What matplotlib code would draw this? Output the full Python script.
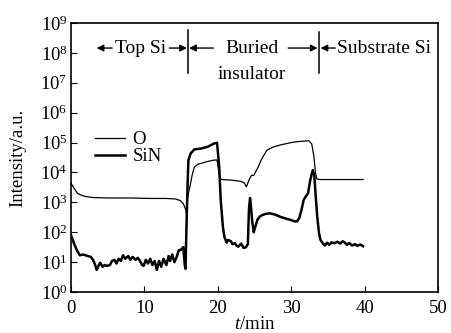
import matplotlib
matplotlib.use("Agg")
import matplotlib.pyplot as plt

plt.rcParams['font.family'] = ['Liberation Serif', 'DejaVu Serif']
plt.rcParams['mathtext.fontset'] = 'custom'
plt.rcParams['mathtext.rm'] = 'Liberation Serif'
plt.rcParams['mathtext.it'] = 'Liberation Serif:italic'

# O signal (thin line)
t_O = [0, 0.4, 0.9, 1.5, 2.1, 3, 5, 8, 11, 13, 14.2, 14.9, 15.3, 15.6, 15.75,
       15.9, 16.2, 16.5, 16.8, 17.3, 17.7, 18.5, 19.5, 19.9, 20.1, 20.3, 20.6,
       22, 23.2, 23.6, 23.9, 24.3, 24.6, 24.9, 25.5, 25.9, 26.7, 27.5, 28.5,
       30, 30.8, 32.4, 32.8, 33.1, 33.3, 33.5, 34, 36, 38, 39.8]
v_O = [4.4e3, 3.0e3, 2.0e3, 1.7e3, 1.55e3, 1.45e3, 1.4e3, 1.4e3, 1.35e3, 1.35e3,
       1.3e3, 1.15e3, 9e2, 6e2, 4e2,
       1.5e3, 3.3e3, 8e3, 1.5e4, 1.9e4, 2.0e4, 2.3e4, 2.6e4, 2.6e4, 1.2e4, 6e3, 5.8e3,
       5.5e3, 5.0e3, 4.5e3, 3.3e3, 6e3, 8e3, 8e3, 1.5e4, 2.6e4, 5.6e4, 7e4, 8.3e4,
       1.0e5, 1.07e5, 1.15e5, 9e4, 3.4e4, 1e4, 6e3, 5.8e3, 5.8e3, 5.8e3, 5.8e3]

# SiN signal (thick line)
t_SiN = [0, 0.2, 0.4, 0.8, 1.2, 1.7, 2.3, 2.7, 3.0, 3.3, 3.5, 3.8, 4.0, 4.3, 4.6,
         4.9, 5.3, 5.6, 5.9, 6.2, 6.5, 6.8, 7.1, 7.4, 7.8, 8.1, 8.4, 8.8, 9.1,
         9.4, 9.7, 9.9, 10.2, 10.5, 10.8, 11.1, 11.4, 11.7, 12.0, 12.3, 12.6,
         13.0, 13.3, 13.5, 13.8, 14.1, 14.4, 14.7, 15.0, 15.3, 15.5, 15.6, 15.75,
         15.9, 16.0, 16.3, 16.8, 17.7, 18.6, 19.5, 19.9, 20.2, 20.4, 20.7, 20.9,
         21.2, 21.4, 21.8, 22.0, 22.3, 22.6, 22.8, 23.2, 23.5, 23.8, 24.1, 24.25,
         24.4, 24.55, 24.7, 24.9, 25.1, 25.4, 25.7, 26.0, 26.5, 27.1, 27.8, 28.5,
         29.2, 29.9, 30.5, 30.8, 31.1, 31.4, 31.7, 32.0, 32.3, 32.6, 32.95, 33.15,
         33.35, 33.55, 33.8, 34.0, 34.3, 34.6, 34.9, 35.2, 35.5, 35.9, 36.3, 36.7,
         37.0, 37.3, 37.6, 37.9, 38.3, 38.7, 39.0, 39.4, 39.8]
v_SiN = [8e1, 6e1, 4.3e1, 2.5e1, 1.7e1, 1.8e1, 1.6e1, 1.5e1, 1.2e1, 8, 5.5, 8,
         9.5, 7, 8, 7.5, 8, 11, 12, 9, 13, 11, 17, 13, 16, 12, 15, 12, 14, 11, 8,
         7.5, 12, 9, 13, 8, 11, 5.5, 11, 7, 13, 8, 16, 11, 18, 10, 15, 25, 26, 32,
         8, 6, 2e2,
         5e3, 2.6e4, 4.3e4, 5.9e4, 6.3e4, 7.2e4, 9.3e4, 9.8e4, 1.5e4, 1.2e3, 1.5e2,
         7e1, 4.5e1, 5.5e1, 5.0e1, 4e1, 4.3e1, 3.5e1, 3.3e1, 4.2e1, 3.0e1, 3.1e1,
         4e1, 6e2, 1.4e3, 6e2, 2.2e2, 1.0e2, 1.5e2, 2.6e2, 3.3e2, 3.7e2, 4.1e2,
         4.3e2, 3.9e2, 3.3e2, 2.9e2, 2.6e2, 2.3e2, 2.3e2, 3e2, 5.5e2, 1.2e3, 1.6e3,
         2.0e3, 5.6e3, 1.2e4, 8e3, 1.5e3, 3.3e2, 9e1, 5.5e1, 4.3e1, 3.6e1, 4.5e1,
         3.8e1, 4.6e1, 4.3e1, 4.8e1, 4.2e1, 5.0e1, 4.5e1, 3.8e1, 4.4e1, 3.6e1,
         4.0e1, 3.5e1, 3.9e1, 3.4e1]

x_ticks = [0, 10, 20, 30, 40, 50]
y_ticks = [1e0, 1e1, 1e2, 1e3, 1e4, 1e5, 1e6, 1e7, 1e8, 1e9]

fig = plt.figure(figsize=(4.52, 3.33), dpi=100)
ax = fig.add_axes([0.157, 0.123, 0.812, 0.808])

ax.plot(t_O, v_O, color='black', lw=0.9, label='O')
ax.plot(t_SiN, v_SiN, color='black', lw=1.8, label='SiN')

ax.set_yscale('log')
ax.set_xlim(0, 50)
ax.set_ylim(1e0, 1e9)
ax.set_xticks(x_ticks)
ax.set_yticks(y_ticks)
ax.minorticks_off()
ax.tick_params(direction='in', length=4, labelsize=13.5, top=False, right=False)
ax.tick_params(axis='x', pad=6)
ax.tick_params(axis='y', pad=2.5)
for s in ax.spines.values():
    s.set_linewidth(1.2)

ax.set_xlabel('$t$/min', fontsize=13.5, labelpad=-1)
ax.set_ylabel('Intensity/a.u.', fontsize=13.5, labelpad=10)

leg = ax.legend(loc='upper left', bbox_to_anchor=(0.065, 0.598), frameon=False,
                fontsize=13.5, handlelength=1.6, handletextpad=0.4,
                labelspacing=0.0, borderaxespad=0, borderpad=0)

# Region annotations
fs = 14
ya = 1.45e8
arrow = dict(arrowstyle='-|>', color='black', lw=1.0, mutation_scale=10,
             shrinkA=0, shrinkB=0)
ax.annotate('', xy=(3.5, ya), xytext=(5.6, ya), arrowprops=arrow)
ax.text(9.45, ya, 'Top Si', fontsize=fs, va='center', ha='center')
ax.annotate('', xy=(15.8, ya), xytext=(13.4, ya), arrowprops=arrow)
ax.plot([15.95, 15.95], [5.8e8, 2.1e7], color='black', lw=1.1)
ax.annotate('', xy=(16.1, ya), xytext=(19.4, ya), arrowprops=arrow)
ax.text(24.7, ya, 'Buried', fontsize=fs, va='center', ha='center')
ax.text(24.7, 1.9e7, 'insulator', fontsize=fs, va='center', ha='center')
ax.annotate('', xy=(33.6, ya), xytext=(29.6, ya), arrowprops=arrow)
ax.plot([33.8, 33.8], [5.0e8, 2.1e7], color='black', lw=1.1)
ax.annotate('', xy=(34.0, ya), xytext=(36.0, ya), arrowprops=arrow)
ax.text(42.6, ya, 'Substrate Si', fontsize=fs, va='center', ha='center')

fig.savefig('out.png', dpi=100)
